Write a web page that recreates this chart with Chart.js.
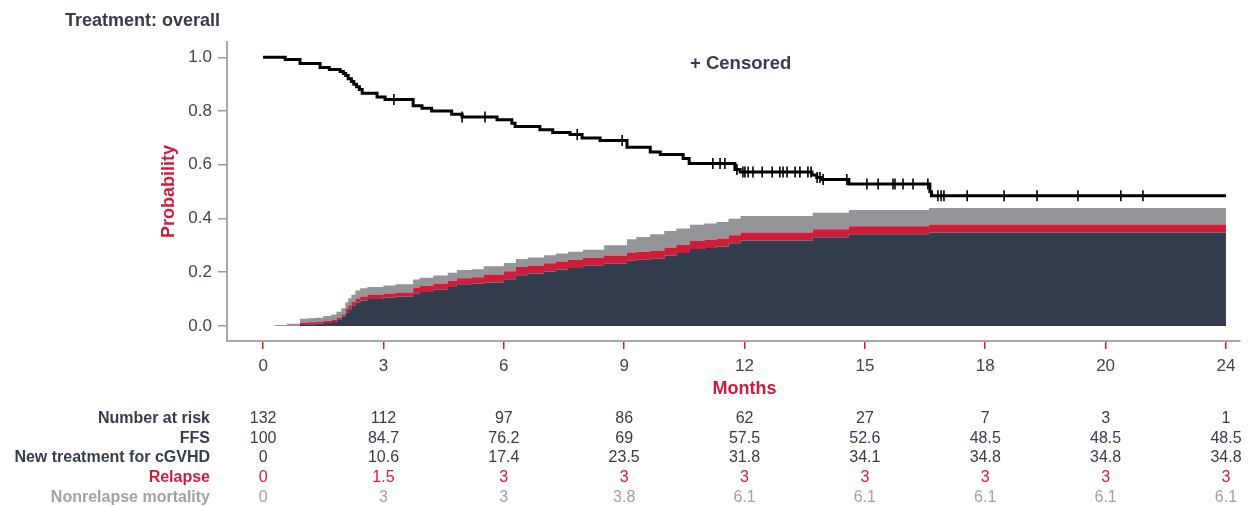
<!DOCTYPE html>
<html>
<head>
<meta charset="utf-8">
<title>Treatment: overall</title>
<script src="https://cdn.jsdelivr.net/npm/chart.js@4.4.1/dist/chart.umd.min.js"></script>
<style>
	html, body { margin: 0; padding: 0; background: #fff; }
	#wrap { width: 1251px; height: 506px; }
</style>
</head>
<body>
<div id="wrap"><canvas id="kmChart" width="1251" height="506"></canvas></div>
<script>
// Failure-free survival (step curve)
const ffsTimes = [0, 0.55, 0.92, 1.42, 1.65, 1.92, 2.0, 2.06, 2.12, 2.2, 2.26, 2.33, 2.4, 2.47, 2.84, 3.04, 3.74, 3.96, 4.2, 4.7, 4.96, 5.83, 6.2, 6.28, 6.9, 7.22, 7.65, 7.95, 8.4, 9.07, 9.65, 9.9, 10.47, 10.62, 11.76, 11.89, 13.68, 13.8, 13.92, 14.6, 16.62, 16.66, 24];
const ffsValues = [1.0, 0.992, 0.977, 0.962, 0.955, 0.947, 0.94, 0.932, 0.92, 0.91, 0.9, 0.89, 0.88, 0.866, 0.852, 0.843, 0.82, 0.81, 0.8, 0.788, 0.778, 0.768, 0.755, 0.742, 0.73, 0.72, 0.713, 0.7, 0.69, 0.665, 0.648, 0.638, 0.623, 0.605, 0.582, 0.573, 0.562, 0.553, 0.545, 0.528, 0.5, 0.485, 0.485];

// censored times (months)
const censorTimes = [3.26, 4.96, 5.53, 7.83, 8.95, 11.21, 11.39, 11.51, 11.81, 11.96, 12.01, 12.09, 12.21, 12.44, 12.69, 12.88, 12.96, 13.06, 13.26, 13.38, 13.58, 13.66, 13.81, 13.88, 13.96, 14.55, 15.05, 15.33, 15.7, 15.75, 15.95, 16.2, 16.57, 16.82, 16.9, 16.97, 17.55, 18.47, 19.29, 20.31, 21.38, 21.93];

// cumulative incidence of competing events
const cifTimes = [0, 0.3, 0.6, 0.92, 1.1, 1.3, 1.5, 1.7, 1.83, 1.95, 2.05, 2.12, 2.2, 2.3, 2.42, 2.6, 3.0, 3.3, 3.74, 3.9, 4.24, 4.6, 4.83, 5.2, 5.5, 6.0, 6.3, 6.6, 7.0, 7.3, 7.6, 7.97, 8.5, 9.07, 9.3, 9.65, 10.0, 10.3, 10.64, 11.0, 11.3, 11.6, 11.9, 13.7, 14.6, 16.6, 24];
const newTreatment = [0, 0, 0, 0.004, 0.006, 0.008, 0.011, 0.015, 0.022, 0.035, 0.05, 0.062, 0.075, 0.087, 0.095, 0.1, 0.106, 0.11, 0.12, 0.126, 0.135, 0.145, 0.155, 0.158, 0.162, 0.174, 0.189, 0.195, 0.203, 0.21, 0.216, 0.224, 0.232, 0.243, 0.246, 0.25, 0.262, 0.272, 0.286, 0.29, 0.296, 0.308, 0.318, 0.33, 0.341, 0.348, 0.348];
const relapseCif = [0, 0, 0, 0.0076, 0.0076, 0.0076, 0.0076, 0.0076, 0.0076, 0.0076, 0.015, 0.015, 0.015, 0.015, 0.015, 0.015, 0.015, 0.015, 0.023, 0.023, 0.023, 0.023, 0.023, 0.023, 0.03, 0.03, 0.03, 0.03, 0.03, 0.03, 0.03, 0.03, 0.03, 0.03, 0.03, 0.03, 0.03, 0.03, 0.03, 0.03, 0.03, 0.03, 0.03, 0.03, 0.03, 0.03, 0.03];
const nrmCif = [0, 0.004, 0.008, 0.015, 0.015, 0.015, 0.018, 0.02, 0.023, 0.023, 0.023, 0.026, 0.026, 0.03, 0.03, 0.03, 0.03, 0.03, 0.03, 0.03, 0.03, 0.03, 0.03, 0.03, 0.03, 0.03, 0.03, 0.03, 0.03, 0.03, 0.03, 0.03, 0.038, 0.05, 0.055, 0.061, 0.061, 0.061, 0.061, 0.061, 0.061, 0.061, 0.061, 0.061, 0.061, 0.061, 0.061];

// axes
const xTickValues = [0, 3, 6, 9, 12, 15, 18, 21, 24];
const xTickLabels = ['0', '3', '6', '9', '12', '15', '18', '20', '24'];
const yTickValues = [0, 0.2, 0.4, 0.6, 0.8, 1.0];

// number at risk table
const rowLabels = ['Number at risk', 'FFS', 'New treatment for cGVHD', 'Relapse', 'Nonrelapse mortality'];
const atRisk = ['132', '112', '97', '86', '62', '27', '7', '3', '1'];
const ffsPct = ['100', '84.7', '76.2', '69', '57.5', '52.6', '48.5', '48.5', '48.5'];
const newTxPct = ['0', '10.6', '17.4', '23.5', '31.8', '34.1', '34.8', '34.8', '34.8'];
const relapsePct = ['0', '1.5', '3', '3', '3', '3', '3', '3', '3'];
const nrmPct = ['0', '3', '3', '3.8', '6.1', '6.1', '6.1', '6.1', '6.1'];

const DARK = '#343d4e';
const RED = '#d01c3b';
const GREY = '#949598';
const TEXT = '#353d4d';
const FONT = '"Liberation Sans", Arial, sans-serif';

function ffsAt(t) {
	let v = ffsValues[0];
	for (let i = 0; i < ffsTimes.length; i++) {
		if (ffsTimes[i] <= t) v = ffsValues[i];
	}
	return v;
}

const points = (times, vals) => times.map((t, i) => ({ x: t, y: vals[i] }));
const redTop = newTreatment.map((v, i) => v + relapseCif[i]);
const greyTop = redTop.map((v, i) => v + nrmCif[i]);

const textPlugin = {
	id: 'textPlugin',
	afterDraw(chart) {
		const ctx = chart.ctx;
		const xs = chart.scales.x;
		const ys = chart.scales.y;
		ctx.save();
		ctx.textBaseline = 'alphabetic';

		ctx.fillStyle = TEXT;
		ctx.textAlign = 'left';
		ctx.font = 'bold 18px ' + FONT;
		ctx.fillText('Treatment: overall', 65, 26);
		ctx.font = 'bold 18.5px ' + FONT;
		ctx.fillText('+ Censored', 690, 69);

		ctx.fillStyle = RED;
		ctx.textAlign = 'center';
		ctx.font = 'bold 18px ' + FONT;
		ctx.fillText('Months', xs.getPixelForValue(12), 394);
		ctx.save();
		ctx.translate(174, (ys.top + ys.bottom) / 2);
		ctx.rotate(-Math.PI / 2);
		ctx.fillText('Probability', 0, 0);
		ctx.restore();

		// risk table
		const rows = [atRisk, ffsPct, newTxPct, relapsePct, nrmPct];
		const colors = [TEXT, TEXT, TEXT, RED, '#a2a2a2'];
		rows.forEach((row, r) => {
			const y = 423 + r * 19.7;
			ctx.fillStyle = colors[r];
			ctx.font = 'bold 16px ' + FONT;
			ctx.textAlign = 'right';
			ctx.fillText(rowLabels[r], 210, y);
			ctx.font = '16px ' + FONT;
			ctx.textAlign = 'center';
			row.forEach((txt, i) => {
				ctx.fillText(txt, xs.getPixelForValue(xTickValues[i]), y);
			});
		});
		ctx.restore();
	}
};

const chart = new Chart(document.getElementById('kmChart'), {
	type: 'line',
	data: {
		datasets: [
			{
				type: 'scatter',
				data: censorTimes.map((t) => ({ x: t, y: ffsAt(t) })),
				pointStyle: 'line',
				rotation: 90,
				pointRadius: 5.5,
				borderColor: '#000',
				borderWidth: 1.6,
			},
			{
				data: points(ffsTimes, ffsValues),
				stepped: true,
				borderColor: '#000',
				borderWidth: 3,
				pointRadius: 0,
				fill: false,
			},
			{
				data: points(cifTimes, newTreatment),
				stepped: true,
				borderWidth: 0,
				pointRadius: 0,
				backgroundColor: DARK,
				fill: 'origin',
			},
			{
				data: points(cifTimes, redTop),
				stepped: true,
				borderWidth: 0,
				pointRadius: 0,
				backgroundColor: RED,
				fill: 2,
			},
			{
				data: points(cifTimes, greyTop),
				stepped: true,
				borderWidth: 0,
				pointRadius: 0,
				backgroundColor: GREY,
				fill: 3,
			},
		],
	},
	options: {
		responsive: false,
		animation: false,
		layout: { padding: { top: 42, right: 11, left: 0, bottom: 0 } },
		plugins: {
			legend: { display: false },
			tooltip: { enabled: false },
		},
		scales: {
			x: {
				type: 'linear',
				min: -0.9,
				max: 24.35,
				afterBuildTicks: (axis) => {
					axis.ticks = xTickValues.map((v) => ({ value: v }));
				},
				afterFit: (axis) => {
					axis.height = 165;
				},
				ticks: {
					callback: (v, i) => xTickLabels[i],
					color: '#3e4553',
					font: { family: FONT, size: 17 },
					padding: 7,
					maxRotation: 0,
					autoSkip: false,
				},
				grid: { drawOnChartArea: false, tickLength: 8, color: RED, lineWidth: 1.5 },
				border: { display: true, color: '#a8a8a8', width: 2 },
			},
			y: {
				min: -0.056,
				max: 1.057,
				afterBuildTicks: (axis) => {
					axis.ticks = yTickValues.map((v) => ({ value: v }));
				},
				afterFit: (axis) => {
					axis.width = 227;
				},
				ticks: {
					callback: (v) => v.toFixed(1),
					color: '#3e4553',
					font: { family: FONT, size: 17 },
					padding: 6,
				},
				grid: { drawOnChartArea: false, tickLength: 9, color: '#9a9a9a', lineWidth: 1.5 },
				border: { display: true, color: '#a8a8a8', width: 2 },
			},
		},
	},
	plugins: [textPlugin],
});
</script>
</body>
</html>
